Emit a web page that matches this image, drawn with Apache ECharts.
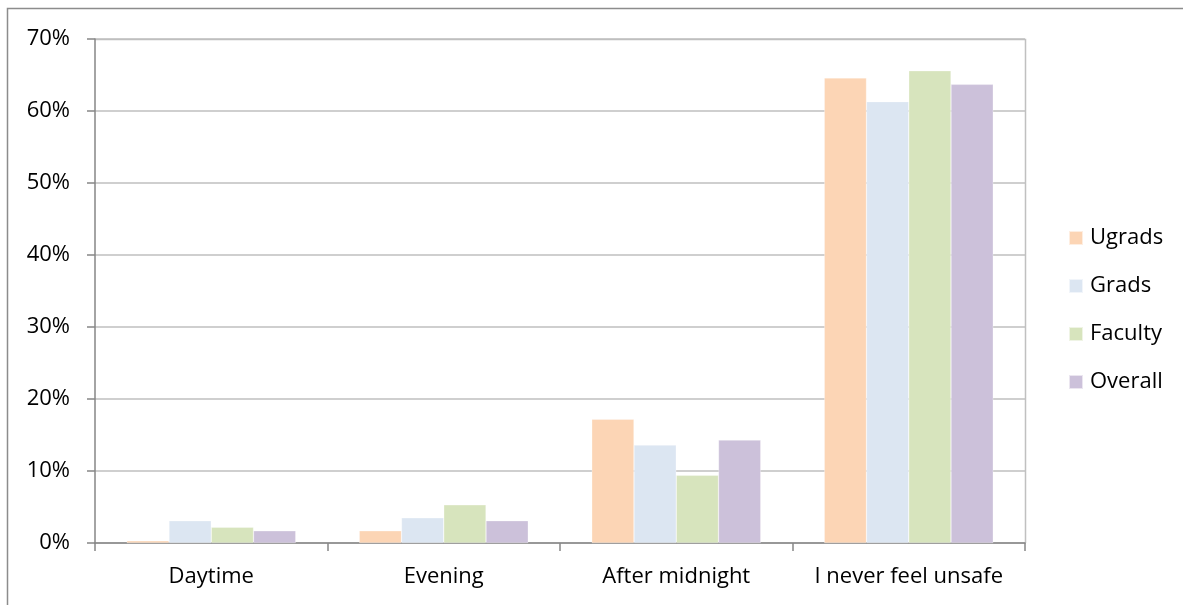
<!DOCTYPE html>
<html>
<head>
<meta charset="utf-8">
<script src="https://cdn.jsdelivr.net/npm/echarts@6/dist/echarts.min.js"></script>
<style>
  html, body { margin: 0; padding: 0; background: #fff; }
  #chart { width: 1183px; height: 605px; }
</style>
</head>
<body>
<div id="chart"></div>
<script>
// When do you feel unsafe on campus? Share of respondents per group.
const categories = ['Daytime', 'Evening', 'After midnight', 'I never feel unsafe'];
const ugrads  = [0.3, 1.7, 17.2, 64.6];
const grads   = [3.1, 3.5, 13.6, 61.3];
const faculty = [2.2, 5.3, 9.4, 65.6];
const overall = [1.7, 3.1, 14.3, 63.7];
const seriesNames = ['Ugrads', 'Grads', 'Faculty', 'Overall'];
const seriesColors = ['#FCD5B5', '#DCE6F2', '#D7E4BD', '#CCC1DA'];

const FONT = '"Open Sans", Lato, sans-serif';
const FONT_SIZE = 22;

const chart = echarts.init(document.getElementById('chart'), null, { renderer: 'canvas' });

const seriesData = [ugrads, grads, faculty, overall];

chart.setOption({
  animation: false,
  backgroundColor: '#fff',
  textStyle: { fontFamily: FONT },
  graphic: [
    {
      // outer chart frame
      type: 'rect',
      shape: { x: 7.5, y: 8.5, width: 1200, height: 620 },
      style: { fill: 'none', stroke: '#8C8C8C', lineWidth: 1.5 },
      silent: true,
      z: -1
    },
    {
      // plot area frame (top and right edges)
      type: 'polyline',
      shape: { points: [[95, 39.5], [1025.5, 39.5], [1025.5, 543]] },
      style: { fill: 'none', stroke: '#C0C0C0', lineWidth: 1.5 },
      silent: true,
      z: 0
    }
  ],
  legend: {
    orient: 'vertical',
    left: 1068,
    top: 227,
    padding: 0,
    itemWidth: 14,
    itemHeight: 14,
    itemGap: 26,
    icon: 'rect',
    textStyle: { fontFamily: FONT, fontSize: FONT_SIZE, color: '#000', padding: [0, 0, 0, 2] },
    data: seriesNames
  },
  grid: { left: 95, top: 39, width: 930, height: 504, containLabel: false },
  xAxis: {
    type: 'category',
    data: categories,
    axisLine: { show: true, lineStyle: { color: '#868686', width: 1.5 } },
    axisTick: { show: true, interval: 0, alignWithLabel: false, length: 8, lineStyle: { color: '#868686', width: 1.5 } },
    axisLabel: { interval: 0, fontFamily: FONT, fontSize: FONT_SIZE, color: '#000', margin: 23 }
  },
  yAxis: {
    type: 'value',
    min: 0,
    max: 70,
    interval: 10,
    axisLine: { show: true, lineStyle: { color: '#868686', width: 1.5 } },
    axisTick: { show: true, length: 8, lineStyle: { color: '#868686', width: 1.5 } },
    axisLabel: { fontFamily: FONT, fontSize: FONT_SIZE, color: '#000', margin: 25, formatter: v => v + '%' },
    splitLine: { show: true, lineStyle: { color: '#BFBFBF', width: 1.5 } }
  },
  series: seriesNames.map((name, i) => ({
    name,
    type: 'bar',
    data: seriesData[i],
    barGap: '0%',
    barCategoryGap: '27.3%',
    itemStyle: { color: seriesColors[i], borderColor: 'rgba(255,255,255,0.6)', borderWidth: 0.5 }
  }))
});
</script>
</body>
</html>
